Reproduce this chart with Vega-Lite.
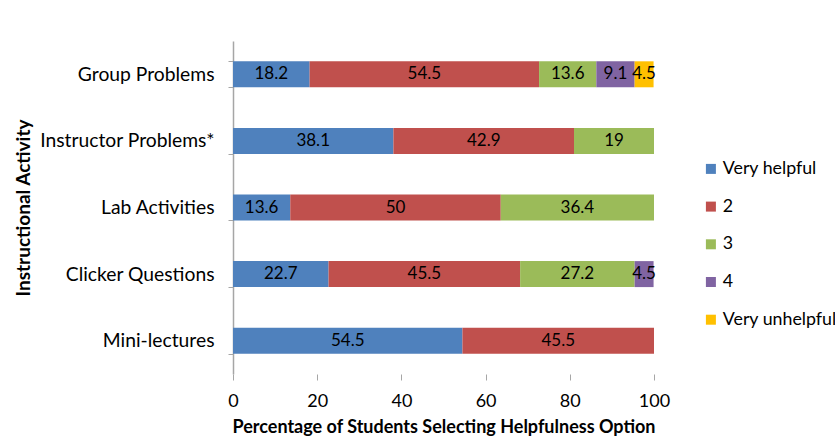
{
  "$schema": "https://vega.github.io/schema/vega-lite/v6.json",
  "autosize": "none",
  "width": 421,
  "height": 333,
  "padding": {"left": 233, "top": 41, "right": 181, "bottom": 68},
  "background": "white",
  "config": {
    "view": {"stroke": null},
    "font": "Lato",
    "axis": {"labelFont": "Lato", "titleFont": "Lato", "labelColor": "#000000", "titleColor": "#000000"}
  },
  "data": {
    "values": [
      {"activity": "Group Problems", "option": "Very helpful", "ord": 1, "value": 18.2},
      {"activity": "Group Problems", "option": "2", "ord": 2, "value": 54.5},
      {"activity": "Group Problems", "option": "3", "ord": 3, "value": 13.6},
      {"activity": "Group Problems", "option": "4", "ord": 4, "value": 9.1},
      {"activity": "Group Problems", "option": "Very unhelpful", "ord": 5, "value": 4.5},
      {"activity": "Instructor Problems*", "option": "Very helpful", "ord": 1, "value": 38.1},
      {"activity": "Instructor Problems*", "option": "2", "ord": 2, "value": 42.9},
      {"activity": "Instructor Problems*", "option": "3", "ord": 3, "value": 19},
      {"activity": "Lab Activities", "option": "Very helpful", "ord": 1, "value": 13.6},
      {"activity": "Lab Activities", "option": "2", "ord": 2, "value": 50},
      {"activity": "Lab Activities", "option": "3", "ord": 3, "value": 36.4},
      {"activity": "Clicker Questions", "option": "Very helpful", "ord": 1, "value": 22.7},
      {"activity": "Clicker Questions", "option": "2", "ord": 2, "value": 45.5},
      {"activity": "Clicker Questions", "option": "3", "ord": 3, "value": 27.2},
      {"activity": "Clicker Questions", "option": "4", "ord": 4, "value": 4.5},
      {"activity": "Mini-lectures", "option": "Very helpful", "ord": 1, "value": 54.5},
      {"activity": "Mini-lectures", "option": "2", "ord": 2, "value": 45.5}
    ]
  },
  "transform": [
    {"stack": "value", "groupby": ["activity"], "sort": [{"field": "ord", "order": "ascending"}], "as": ["v0", "v1"]},
    {"calculate": "(datum.v0 + datum.v1) / 2", "as": "mid"}
  ],
  "encoding": {
    "y": {
      "field": "activity",
      "type": "nominal",
      "sort": ["Group Problems", "Instructor Problems*", "Lab Activities", "Clicker Questions", "Mini-lectures"],
      "scale": {"paddingInner": 0.61, "paddingOuter": 0.305},
      "axis": {
        "title": "Instructional Activity",
        "titleFontSize": 19,
        "titleFontWeight": "bold",
        "titlePadding": 6,
        "labelFontSize": 19.3,
        "labelFontWeight": "normal",
        "labelPadding": 14,
        "tickBand": "extent",
        "tickSize": 5,
        "tickColor": "#a6a6a6",
        "domainColor": "#a6a6a6",
        "domainWidth": 1.5
      }
    }
  },
  "layer": [
    {
      "mark": {"type": "bar"},
      "encoding": {
        "x": {
          "field": "v0",
          "type": "quantitative",
          "scale": {"domain": [0, 100], "nice": false},
          "axis": {
            "title": "Percentage of Students Selecting Helpfulness Option",
            "titleFontSize": 18,
            "titleFontWeight": "bold",
            "titlePadding": 8,
            "labelFontSize": 18,
            "labelPadding": 12,
            "labelFlush": false,
            "values": [0, 20, 40, 60, 80, 100],
            "domain": false,
            "grid": false,
            "tickSize": 6,
            "tickColor": "#a6a6a6"
          }
        },
        "x2": {"field": "v1"},
        "color": {
          "field": "option",
          "type": "nominal",
          "scale": {
            "domain": ["Very helpful", "2", "3", "4", "Very unhelpful"],
            "range": ["#4F81BD", "#C0504D", "#9BBB59", "#8064A2", "#FFC000"]
          },
          "legend": {
            "title": null,
            "orient": "none",
            "legendX": 469,
            "legendY": 119,
            "symbolType": "square",
            "symbolSize": 100,
            "symbolStrokeWidth": 0,
            "labelFontSize": 17.8,
            "labelFont": "Lato",
            "labelColor": "#000000",
            "rowPadding": 18.7,
            "labelOffset": 3,
            "labelLimit": 300
          }
        }
      }
    },
    {
      "mark": {"type": "text", "fontSize": 17, "color": "#000000", "font": "Lato"},
      "encoding": {
        "x": {"field": "mid", "type": "quantitative"},
        "text": {"field": "value", "type": "nominal"}
      }
    }
  ]
}
